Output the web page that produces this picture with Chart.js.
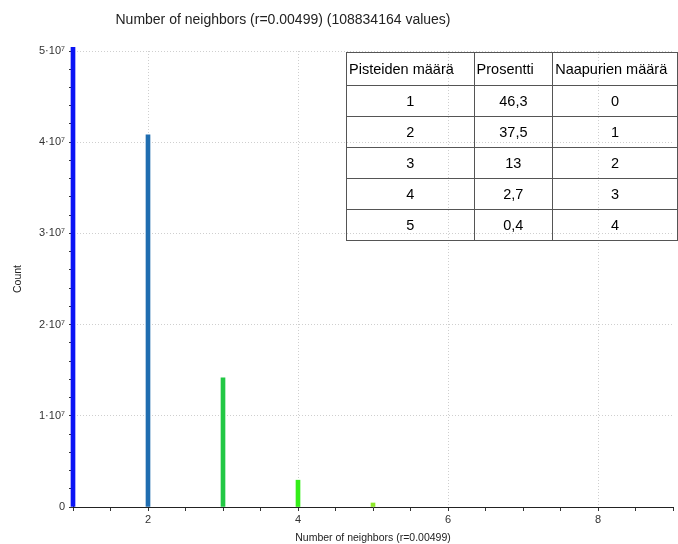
<!DOCTYPE html>
<html>
<head>
<meta charset="utf-8">
<script src="https://cdn.jsdelivr.net/npm/chart.js@4/dist/chart.umd.min.js"></script>
<style>
  html, body { margin: 0; padding: 0; background: #fff; }
  #wrap { position: relative; width: 678px; height: 544px; overflow: hidden; }
  #c { position: absolute; left: 0; top: 0; }
  #tbl {
    position: absolute; left: 346px; top: 52px;
    border-collapse: collapse;
    font-family: "Liberation Sans", Arial, sans-serif; font-size: 14.5px; color: #000;
    background: transparent;
  }
  #tbl td { border: 1px solid #555; padding: 0 2px; height: 30px; text-align: center; white-space: nowrap; }
  #tbl tr.head td { text-align: left; height: 32px; }
</style>
</head>
<body>
<div id="wrap">
  <canvas id="c" width="678" height="544"></canvas>
  <table id="tbl"></table>
</div>
<script>
// ---- data ----
const neighbors = [1, 2, 3, 4, 5];
const counts = [50390000, 40810000, 14150000, 2940000, 440000];
const barColors = ['#0a14f5', '#1f6db0', '#22c844', '#33ee18', '#8ee82a'];

const tableHeaders = ['Pisteiden määrä', 'Prosentti', 'Naapurien määrä'];
const pisteet = ['1', '2', '3', '4', '5'];
const prosentti = ['46,3', '37,5', '13', '2,7', '0,4'];
const naapurit = ['0', '1', '2', '3', '4'];

const titleText = 'Number of neighbors (r=0.00499) (108834164 values)';
const xTitle = 'Number of neighbors (r=0.00499)';
const yTitle = 'Count';
const xLabelTicks = [2, 4, 6, 8];

// ---- table ----
const tbl = document.getElementById('tbl');
const colWidths = [128, 79, 125];
let html = '<tr class="head">' + tableHeaders.map((h, i) => '<td style="width:' + (colWidths[i] - 5) + 'px">' + h + '</td>').join('') + '</tr>';
for (let i = 0; i < pisteet.length; i++) {
  html += '<tr><td>' + pisteet[i] + '</td><td>' + prosentti[i] + '</td><td>' + naapurit[i] + '</td></tr>';
}
tbl.innerHTML = html;

// ---- chart ----
const isMajorY = v => Math.abs(v / 1e7 - Math.round(v / 1e7)) < 1e-6;
const isMajorX = v => xLabelTicks.some(t => Math.abs(t - v) < 1e-6);

const titlePlugin = {
  id: 'manualTitle',
  afterDraw(chart) {
    const ctx = chart.ctx;
    ctx.save();
    ctx.font = '14px "Liberation Sans", Arial, sans-serif';
    ctx.fillStyle = '#222';
    ctx.textAlign = 'center';
    ctx.textBaseline = 'middle';
    ctx.fillText(titleText, 283, 20);
    ctx.restore();
  }
};

const tickFont = { family: '"Liberation Sans", Arial, sans-serif', size: 11 };
const axisTitleFont = { family: '"Liberation Sans", Arial, sans-serif', size: 10.5 };

new Chart(document.getElementById('c'), {
  type: 'bar',
  data: {
    datasets: [{
      data: neighbors.map((n, i) => ({ x: n, y: counts[i] })),
      backgroundColor: barColors,
      borderWidth: 0,
      barThickness: 4,
      clip: { left: 4, top: 4, right: 0, bottom: 0 }
    }]
  },
  options: {
    responsive: false,
    devicePixelRatio: 1,
    animation: false,
    layout: { padding: { top: 51, right: 5, left: 0, bottom: 0 } },
    plugins: { legend: { display: false }, tooltip: { enabled: false }, title: { display: false } },
    scales: {
      x: {
        type: 'linear',
        min: 1, max: 9,
        offset: false,
        afterFit(s) { s.height = 37; },
        ticks: {
          stepSize: 0.5,
          autoSkip: false,
          maxRotation: 0,
          padding: 2,
          color: '#333',
          font: tickFont,
          callback: v => isMajorX(v) ? String(v) : ''
        },
        grid: {
          offset: false,
          color: c => (c.tick && isMajorX(c.tick.value)) ? '#cfcfcf' : 'rgba(0,0,0,0)',
          tickColor: '#333',
          tickLength: 4,
          lineWidth: 1
        },
        border: { display: true, color: '#222', width: 1, dash: [1, 2] },
        title: {
          display: true, text: xTitle, color: '#222',
          font: axisTitleFont,
          padding: { top: 0, bottom: 0 }
        }
      },
      y: {
        type: 'linear',
        min: 0, max: 50000000,
        afterFit(s) { s.width = 73; },
        ticks: {
          stepSize: 2000000,
          autoSkip: false,
          padding: 4,
          color: '#333',
          font: tickFont,
          callback: v => isMajorY(v) ? (Math.round(v / 1e7) === 0 ? '0' : Math.round(v / 1e7) + '·10⁷') : ''
        },
        grid: {
          offset: false,
          color: c => (c.tick && isMajorY(c.tick.value) && c.tick.value > 0) ? '#cfcfcf' : 'rgba(0,0,0,0)',
          tickColor: '#333',
          tickLength: 4,
          lineWidth: 1
        },
        border: { display: true, color: '#222', width: 1, dash: [1, 2] },
        title: {
          display: true, text: yTitle, color: '#222',
          font: axisTitleFont,
          padding: { top: 12, bottom: 0 }
        }
      }
    }
  },
  plugins: [titlePlugin]
});
</script>
</body>
</html>
